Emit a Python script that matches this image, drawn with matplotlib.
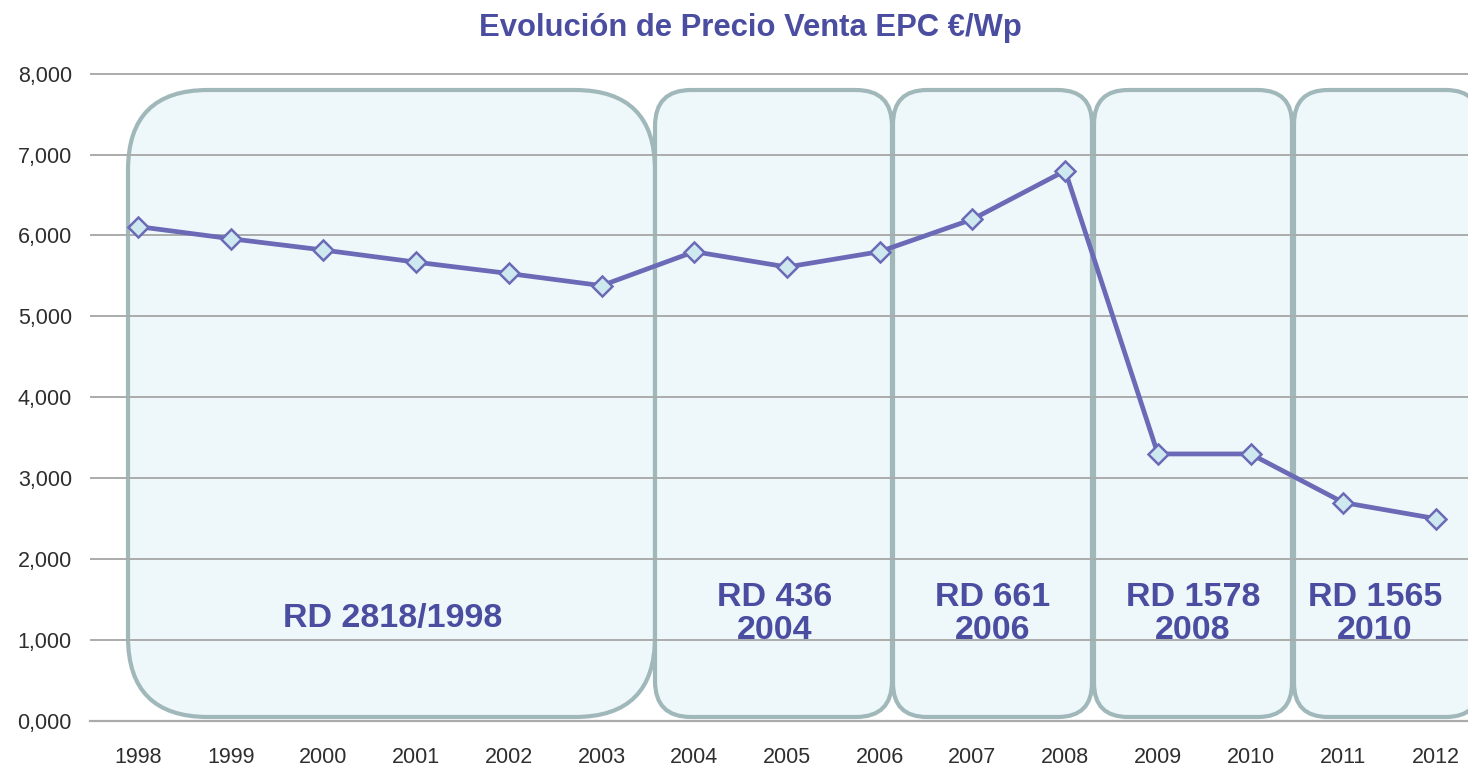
import matplotlib
matplotlib.use("Agg")
import matplotlib.pyplot as plt
from matplotlib.patches import FancyBboxPatch
from matplotlib.transforms import Affine2D

years = ["1998", "1999", "2000", "2001", "2002", "2003", "2004", "2005",
         "2006", "2007", "2008", "2009", "2010", "2011", "2012"]
prices = [6.11, 5.96, 5.82, 5.67, 5.53, 5.38, 5.80, 5.61,
          5.80, 6.20, 6.80, 3.30, 3.30, 2.70, 2.50]
yticks = [0, 1, 2, 3, 4, 5, 6, 7, 8]
ytick_labels = ["0,000", "1,000", "2,000", "3,000", "4,000",
                "5,000", "6,000", "7,000", "8,000"]
title = "Evolución de Precio Venta EPC €/Wp"
period_labels = ["RD 2818/1998", "RD 436\n2004", "RD 661\n2006",
                 "RD 1578\n2008", "RD 1565\n2010"]

W, H = 1468, 768
plt.rcParams['font.family'] = ['Liberation Sans', 'DejaVu Sans']
fig = plt.figure(figsize=(W / 100, H / 100), dpi=100)
ax = fig.add_axes([90 / W, 1 - 721 / H, 1 - 90 / W, (721 - 72) / H])

x = list(range(len(years)))
ax.plot(x, prices, color="#6A6AB6", lw=3.4, zorder=4,
        marker="D", markersize=9.8, markerfacecolor="#CDE8EF",
        markeredgecolor="#6A6AB6", markeredgewidth=1.8)

ax.set_xlim(-0.518, 14.345)
ax.set_ylim(0, 8.02)
ax.set_yticks(yticks)
ax.set_yticklabels(ytick_labels)
ax.set_xticks(x)
ax.set_xticklabels(years)
ax.tick_params(axis="both", length=0, labelsize=15.5, labelcolor="#2e2e2e")
ax.tick_params(axis="y", pad=13)
ax.tick_params(axis="x", pad=19)
ax.grid(axis="y", color="#ABABAB", lw=1.4)
ax.set_axisbelow(False)
for s in ["top", "right", "left"]:
    ax.spines[s].set_visible(False)
ax.spines["bottom"].set_color("#ABABAB")
ax.spines["bottom"].set_linewidth(1.6)

# pixel-space transform (origin top-left)
pix = Affine2D().scale(1, -1).translate(0, H)

boxes = [(128, 655, 80), (655, 892, 36), (893, 1092, 34),
         (1094, 1292, 34), (1294, 1480, 34)]
label_pos = [(393, 618), (775, 614), (993, 614), (1193, 614), (1375, 614)]
for (x0, x1, r), lab, (lx, ly) in zip(boxes, period_labels, label_pos):
    p = FancyBboxPatch((x0, 90), x1 - x0, 717 - 90,
                       boxstyle=f"round,pad=0,rounding_size={r}",
                       transform=pix, facecolor="#EEF7FA", edgecolor="#A1B8BA",
                       lw=3.0, zorder=1, clip_on=False)
    ax.add_patch(p)
    ax.text(lx, ly, lab, transform=pix, ha="center", va="center",
            fontsize=24.5, fontweight="bold", color="#4A4DA0",
            linespacing=1.08, zorder=1.5)

fig.text(0.5 * (480 + 1020) / W, 1 - 28 / H, title, ha="center", va="center",
         fontsize=22.3, fontweight="bold", color="#4A4DA0")

fig.savefig("out.png", dpi=100)
